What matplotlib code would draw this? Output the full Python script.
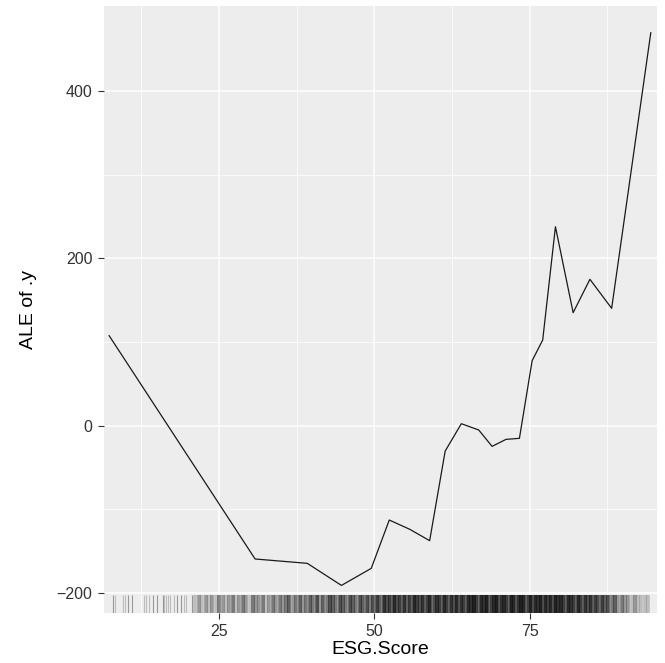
import numpy as np
import matplotlib
matplotlib.use("Agg")
import matplotlib.pyplot as plt
from matplotlib.collections import LineCollection
import matplotlib.transforms as mtransforms

plt.rcParams["font.family"] = ["Liberation Sans", "DejaVu Sans"]

# ALE curve for ESG.Score
esg_x = [7.3, 30.8, 39.2, 44.7, 49.5, 52.4, 55.7, 58.9, 61.4, 64.0, 66.8,
         68.95, 71.2, 73.35, 75.4, 77.1, 79.15, 82.0, 84.7, 88.2, 94.5]
ale_y = [107.7, -159.4, -164.6, -191.0, -170.6, -112.8, -123.9, -137.5,
         -30.3, 2.4, -5.1, -24.7, -16.3, -15.1, 77.8, 102.5, 238.0, 135.2,
         175.1, 140.4, 470.0]

# rug: single observations on the sparse low end
rug_sparse = [7.9, 8.2, 9.5, 9.8, 10.4, 11.0, 12.9, 13.3, 13.7, 14.4, 15.0,
              15.9, 16.1, 16.5, 16.7, 17.1, 17.7, 18.3, 18.9, 19.4, 19.7, 20.7]
rug_sparse_n = [2, 1, 1, 1, 2, 2, 1, 1, 1, 2, 2,
                2, 1, 1, 1, 1, 1, 2, 2, 1, 1, 2]

# rug: binned observations (position, how many overlap)
rug_pos = [21.2, 21.8, 22.3, 22.9, 23.4, 23.9, 24.5, 25.0, 25.6, 26.1, 26.6,
           27.2, 27.7, 28.2, 28.8, 29.3, 29.9, 30.4, 30.9, 31.5, 32.0, 32.6,
           33.1, 33.7, 34.2, 34.8, 35.3,
           35.8, 36.3, 36.9, 37.4, 38.0, 38.5, 39.0, 39.6, 40.1, 40.7, 41.2,
           41.7, 42.3, 42.8, 43.4, 43.9, 44.4, 45.0, 45.5, 46.1, 46.6, 47.1,
           47.7, 48.2, 48.8, 49.3, 49.8,
           50.4, 50.9, 51.5, 52.0, 52.5, 53.1, 53.6, 54.2, 54.7, 55.2, 55.8,
           56.3, 56.9, 57.4, 57.9, 58.5, 59.0, 59.6, 60.1, 60.6, 61.2, 61.7,
           62.3, 62.8, 63.3, 63.9, 64.4,
           65.0, 65.5, 66.0, 66.6, 67.1, 67.7, 68.2, 68.7, 69.3, 69.8, 70.4,
           70.9, 71.4, 72.0, 72.5, 73.1, 73.6, 74.1, 74.7, 75.2, 75.8, 76.3,
           76.8, 77.4, 77.9, 78.5, 79.0,
           79.5, 80.1, 80.6, 81.2, 81.7, 82.2, 82.8, 83.3, 83.9, 84.4, 84.9,
           85.5, 86.0, 86.6, 87.1, 87.6, 88.2, 88.7, 89.3, 89.8, 90.3, 90.9,
           91.4, 92.0, 92.5, 93.0, 93.6, 94.1]
rug_n = [1, 2, 1, 2, 1, 2, 1, 3, 2, 1, 2,
         3, 1, 2, 3, 2, 1, 3, 2, 2, 3, 1,
         2, 3, 2, 3, 2,
         3, 4, 2, 3, 4, 2, 3, 4, 3, 5, 2,
         4, 3, 5, 4, 3, 5, 4, 3, 5, 4, 3,
         5, 4, 5, 3, 5,
         6, 4, 7, 5, 6, 8, 5, 6, 7, 4, 6,
         8, 6, 5, 7, 6, 8, 5, 7, 6, 8, 6,
         7, 5, 8, 7, 6,
         8, 7, 9, 6, 8, 7, 9, 6, 8, 9, 7,
         8, 6, 9, 8, 7, 9, 8, 6, 9, 8, 7,
         9, 8, 6, 8, 9,
         7, 8, 6, 8, 7, 6, 8, 6, 7, 5, 7,
         6, 5, 6, 4, 5, 3, 4, 2, 3, 2, 2,
         1, 2, 1, 1, 1, 1]

x_major = [25, 50, 75]
x_minor = [12.5, 37.5, 62.5, 87.5]
y_major = [-200, 0, 200, 400]
y_minor = [-100, 100, 300]

fig = plt.figure(figsize=(6.65, 6.63), dpi=100)
ax = fig.add_axes([103.6 / 665, 1 - 613 / 663, (657 - 103.6) / 665, (613 - 6) / 663])
ax.set_facecolor("#EDEDED")

for v in x_minor:
    ax.axvline(v, color="white", lw=0.55, zorder=0)
for v in y_minor:
    ax.axhline(v, color="white", lw=0.55, zorder=0)
for v in x_major:
    ax.axvline(v, color="white", lw=1.1, zorder=0)
for v in y_major:
    ax.axhline(v, color="white", lw=1.1, zorder=0)

# rug along the bottom, 3% of the panel height, alpha 0.2 per observation
trans = mtransforms.blended_transform_factory(ax.transData, ax.transAxes)


def rug(xs, ns, lw):
    segs = [[(x, 0.0), (x, 0.03)] for x in xs]
    cols = [(0, 0, 0, 1 - 0.8 ** n) for n in ns]
    lc = LineCollection(segs, colors=cols, linewidths=lw, transform=trans, zorder=1)
    ax.add_collection(lc)


rug(rug_sparse, rug_sparse_n, 0.8)
rug(rug_pos, rug_n, 2.6)

ax.plot(esg_x, ale_y, color="#1a1a1a", lw=0.9, zorder=2)

ax.set_xlim(6.41, 95.5)
ax.set_ylim(-224, 502)
ax.set_xticks(x_major)
ax.set_yticks(y_major)
ax.set_xticklabels(["25", "50", "75"])
ax.set_yticklabels(["\u2212200", "0", "200", "400"])
ax.tick_params(colors="#333333", labelcolor="#333333", length=4, width=0.8,
               labelsize=11.5, pad=4)
for s in ax.spines.values():
    s.set_visible(False)

ax.set_xlabel("ESG.Score", fontsize=14, color="black", labelpad=1)
ax.set_ylabel("ALE of .y", fontsize=14, color="black", labelpad=14)

fig.savefig("out.png", dpi=100)
